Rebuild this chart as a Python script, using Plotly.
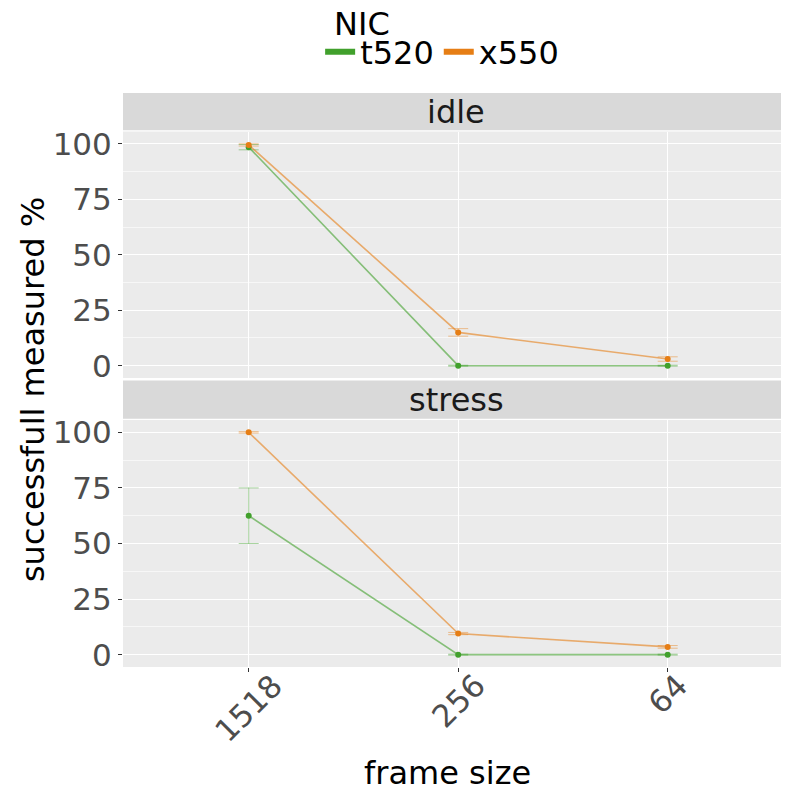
import plotly.graph_objects as go
from plotly.subplots import make_subplots

frames = ["1518", "256", "64"]
nics = ["t520", "x550"]
panels = ["idle", "stress"]

idle_t520 = [98.5, 0, 0]
idle_t520_err = [1.2, 0.2, 0.2]
idle_x550 = [99.5, 15, 3]
idle_x550_err = [0.5, 1.7, 1.0]

stress_t520 = [62.5, 0, 0]
stress_t520_err = [12.5, 0.2, 0.2]
stress_x550 = [100, 9.5, 3.5]
stress_x550_err = [0.3, 0.5, 0.6]

y_ticks = [0, 25, 50, 75, 100]

colors = {"t520": "#41a02c", "x550": "#e67e15"}
line_rgba = {"t520": "rgba(65,160,44,0.6)", "x550": "rgba(230,126,21,0.6)"}
err_rgba = {"t520": "rgba(65,160,44,0.45)", "x550": "rgba(230,126,21,0.45)"}

data = {
    ("idle", "t520"): (idle_t520, idle_t520_err),
    ("idle", "x550"): (idle_x550, idle_x550_err),
    ("stress", "t520"): (stress_t520, stress_t520_err),
    ("stress", "x550"): (stress_x550, stress_x550_err),
}

FONT = "DejaVu Sans"
fig = make_subplots(rows=2, cols=1, shared_xaxes=True)

for r, panel in enumerate(panels, start=1):
    for nic in nics:
        vals, err = data[(panel, nic)]
        fig.add_trace(go.Scatter(
            x=frames, y=vals, mode="lines+markers", name=nic,
            legendgroup=nic, showlegend=False,
            line=dict(color=line_rgba[nic], width=1.6),
            marker=dict(color=colors[nic], size=6),
            error_y=dict(type="data", array=err, visible=True,
                         color=err_rgba[nic], thickness=1, width=10),
        ), row=r, col=1)

# legend-only entries (thick key lines, as in the reference)
for nic in nics:
    fig.add_trace(go.Scatter(x=[None], y=[None], mode="lines", name=nic,
                             legendgroup=nic, showlegend=True,
                             line=dict(color=colors[nic], width=6)), row=1, col=1)

# domains (paper coords)
d_p2 = [0, 0.4303]
d_s2 = [0.4303, 0.4991]
d_p1 = [0.5035, 0.9329]
d_s1 = [0.9329, 1.0]

yax = dict(range=[-5.55, 105.55], tickvals=y_ticks, showgrid=True, gridcolor="white",
           gridwidth=1.2, zeroline=False, ticks="outside", ticklen=4, tickcolor="#333333",
           tickfont=dict(family=FONT, size=31, color="#4d4d4d"),
           minor=dict(tickvals=[12.5, 37.5, 62.5, 87.5], showgrid=True,
                      gridcolor="rgba(255,255,255,0.6)", gridwidth=0.6, ticks=""))
fig.update_layout(yaxis=dict(domain=d_p1, **yax), yaxis2=dict(domain=d_p2, **yax))

xax = dict(type="category", categoryorder="array", categoryarray=frames,
           range=[-0.6, 2.579], showgrid=True, gridcolor="white", gridwidth=1.2,
           zeroline=False)
fig.update_layout(
    xaxis=dict(showticklabels=False, ticks="", **xax),
    xaxis2=dict(showticklabels=False, ticks="outside", ticklen=4, tickcolor="#333333", **xax),
)

# rotated x tick labels (ggplot style: rotated 45 deg, centred on the tick)
for i, f in enumerate(frames):
    fig.add_annotation(x=i, xref="x2", y=(659 - 658) / 574, yref="paper",
                       text=f, textangle=-45, showarrow=False,
                       xanchor="center", yanchor="top", borderpad=0,
                       font=dict(family=FONT, size=31, color="#4d4d4d"))

# strips
for (d, label) in [(d_s1, "idle"), (d_s2, "stress")]:
    fig.add_shape(type="rect", xref="paper", yref="paper", x0=0, x1=1,
                  y0=d[0] + 0.002, y1=d[1], fillcolor="#d9d9d9", line=dict(width=0),
                  layer="below")
    fig.add_annotation(x=0.5, y=(d[0] + d[1]) / 2 + 0.001, xref="paper", yref="paper",
                       text=label, showarrow=False, xanchor="center", yanchor="middle",
                       font=dict(family=FONT, size=32, color="#1a1a1a"))

fig.add_annotation(x=-0.135, y=0.4826, xref="paper", yref="paper",
                   text="successfull measured %", textangle=-90, showarrow=False,
                   xanchor="center", yanchor="middle",
                   font=dict(family=FONT, size=32, color="black"))
fig.add_annotation(x=0.4865, y=-0.1847, xref="paper", yref="paper",
                   text="frame size", showarrow=False, xanchor="center", yanchor="middle",
                   font=dict(family=FONT, size=32, color="black"))
# legend title
fig.add_annotation(x=0.3138, y=(659 - 16) / 574, xref="paper", yref="paper",
                   text="NIC", showarrow=False, xanchor="left", yanchor="middle",
                   font=dict(family=FONT, size=32, color="black"))

fig.update_layout(
    width=781, height=787,
    margin=dict(l=115, r=0, t=85, b=128),
    paper_bgcolor="white", plot_bgcolor="#ebebeb",
    font=dict(family=FONT),
    legend=dict(orientation="h", x=0.296, xanchor="left", y=(659 - 44) / 574, yanchor="middle",
                font=dict(family=FONT, size=32, color="black"),
                itemwidth=30, tracegroupgap=0, bgcolor="rgba(0,0,0,0)"),
)

fig.write_html("out.html")
